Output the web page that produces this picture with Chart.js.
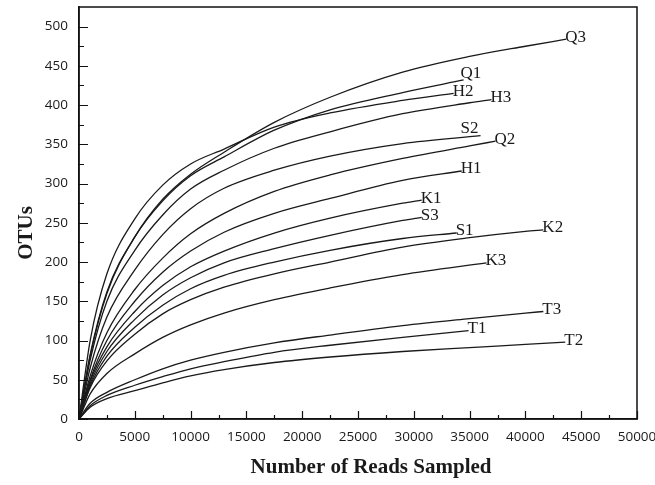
<!DOCTYPE html>
<html>
<head>
<meta charset="utf-8">
<script src="https://cdn.jsdelivr.net/npm/chart.js@4.4.1/dist/chart.umd.min.js"></script>
<style>
  html,body{margin:0;padding:0;background:#fff;}
  #wrap{width:655px;height:485px;}
</style>
</head>
<body>
<div id="wrap"><canvas id="c" width="655" height="485"></canvas></div>
<script>
// ---- data ----
const reads = [0, 1000, 2500, 5000, 7500, 10000, 13000, 17500, 22500, 29000, 35000, 40000];
const seriesNames = ['Q3','Q1','H2','H3','S2','Q2','H1','K1','S3','S1','K2','K3','T3','T1','T2'];
const Q3 = [0, 80, 160, 232, 280, 312, 340, 378, 410, 442, 462, 475];
const Q1 = [0, 82, 162, 232, 278, 310, 334, 368, 394, 416];
const H2 = [0, 100, 185, 255, 298, 325, 344, 372, 390, 406];
const H3 = [0, 75, 150, 215, 260, 293, 317, 345, 366, 389, 403];
const S2 = [0, 65, 130, 190, 235, 268, 294, 317, 335, 351];
const Q2 = [0, 55, 110, 165, 205, 236, 262, 290, 311, 332, 348];
const H1 = [0, 50, 100, 150, 187, 214, 238, 262, 281, 304];
const K1 = [0, 48, 92, 137, 170, 194, 214, 237, 256, 275];
const S3 = [0, 45, 86, 127, 158, 180, 199, 217, 234, 253];
const S1 = [0, 42, 80, 117, 145, 166, 183, 200, 215, 230];
const K2 = [0, 40, 74, 108, 134, 152, 168, 185, 200, 219, 231, 239];
const K3 = [0, 32, 58, 83, 104, 120, 135, 152, 167, 184];
const T3 = [0, 20, 34, 50, 64, 75, 85, 97, 107, 119, 128, 135];
const T1 = [0, 17, 30, 43, 54, 64, 73, 85, 94, 104];
const T2 = [0, 15, 26, 36, 46, 55, 63, 72, 79, 86, 91, 95];
const endReads = [43660, 34460, 33570, 36960, 35980, 37320, 34290, 30710, 30710, 33840, 41610, 36520, 41610, 34910, 43570];
const endOTUs  = [484, 432, 415, 407, 361, 354, 316, 279, 257, 237, 241, 199, 137, 112.5, 98];
const xTickStep = 5000, yTickStep = 50;

const seriesValues = [Q3,Q1,H2,H3,S2,Q2,H1,K1,S3,S1,K2,K3,T3,T1,T2];

const datasets = seriesNames.map((name, i) => {
  const vals = seriesValues[i];
  const pts = vals.map((v, j) => ({x: reads[j], y: v}));
  pts.push({x: endReads[i], y: endOTUs[i]});
  return {
    label: name,
    data: pts,
    borderColor: '#1a1a1a',
    borderWidth: 1.3,
    pointRadius: 0,
    fill: false,
    cubicInterpolationMode: 'monotone'
  };
});

// label placement tweaks (pixels), styling only
const labelNudge = { S2: [-19, -5], Q1: [-2, -4] };

const framePlugin = {
  id: 'frame',
  afterDraw(chart) {
    const {ctx, chartArea: {left, right, top, bottom}, scales: {x, y}} = chart;
    ctx.save();
    ctx.strokeStyle = '#111';
    ctx.lineWidth = 1.5;
    ctx.strokeRect(left, top, right - left, bottom - top);
    ctx.lineWidth = 1.2;
    ctx.beginPath();
    for (let v = x.min; v <= x.max + 1e-6; v += xTickStep) {
      const px = Math.round(x.getPixelForValue(v)) + 0.5;
      ctx.moveTo(px, bottom); ctx.lineTo(px, bottom - 8);
      const m = v + xTickStep / 2;
      if (m < x.max) {
        const pm = Math.round(x.getPixelForValue(m)) + 0.5;
        ctx.moveTo(pm, bottom); ctx.lineTo(pm, bottom - 4);
      }
    }
    for (let v = 0; v <= 500; v += yTickStep) {
      const py = Math.round(y.getPixelForValue(v)) + 0.5;
      ctx.moveTo(left, py); ctx.lineTo(left + 9, py);
      const m = v + yTickStep / 2;
      if (m < y.max) {
        const pm = Math.round(y.getPixelForValue(m)) + 0.5;
        ctx.moveTo(left, pm); ctx.lineTo(left + 5, pm);
      }
    }
    ctx.stroke();

    ctx.fillStyle = '#1a1a1a';
    ctx.font = '17px "Liberation Serif", "Times New Roman", serif';
    ctx.textAlign = 'left';
    ctx.textBaseline = 'middle';
    chart.data.datasets.forEach((ds) => {
      const last = ds.data[ds.data.length - 1];
      const n = labelNudge[ds.label] || [0, 0];
      const px = x.getPixelForValue(last.x);
      const py = y.getPixelForValue(last.y);
      ctx.fillText(ds.label, px - 1 + n[0], py - 2 + n[1]);
    });

    ctx.font = 'bold 21px "Liberation Serif", "Times New Roman", serif';
    ctx.textAlign = 'center';
    ctx.textBaseline = 'middle';
    ctx.fillText('Number of Reads Sampled', 371, 468);
    ctx.save();
    ctx.translate(27, 233);
    ctx.rotate(-Math.PI / 2);
    ctx.fillText('OTUs', 0, 0);
    ctx.restore();
    ctx.restore();
  }
};

function zeroPad(s) { s.paddingTop = 0; s.paddingBottom = 0; s.paddingLeft = 0; s.paddingRight = 0; }

new Chart(document.getElementById('c'), {
  type: 'line',
  data: { datasets },
  plugins: [framePlugin],
  options: {
    responsive: false,
    animation: false,
    layout: { padding: { top: 7, right: 18, left: 0, bottom: 0 } },
    plugins: { legend: { display: false }, tooltip: { enabled: false } },
    scales: {
      x: {
        type: 'linear',
        min: 0, max: 50000,
        grid: { display: false, drawTicks: false },
        border: { display: true, color: '#111', width: 1.5 },
        ticks: { stepSize: xTickStep, padding: 10, color: '#1a1a1a', maxRotation: 0,
                 font: { family: '"Open Sans", sans-serif', size: 13.5 },
                 callback: v => String(v) },
        afterFit: s => { s.height = 66; zeroPad(s); }
      },
      y: {
        type: 'linear',
        min: 0, max: 525,
        grid: { display: false, drawTicks: false },
        border: { display: true, color: '#111', width: 1.5 },
        ticks: { stepSize: yTickStep, includeBounds: false, padding: 11, color: '#1a1a1a',
                 font: { family: '"Open Sans", sans-serif', size: 13.5 },
                 callback: v => String(v) },
        afterFit: s => { s.width = 79; zeroPad(s); }
      }
    }
  }
});
</script>
</body>
</html>
